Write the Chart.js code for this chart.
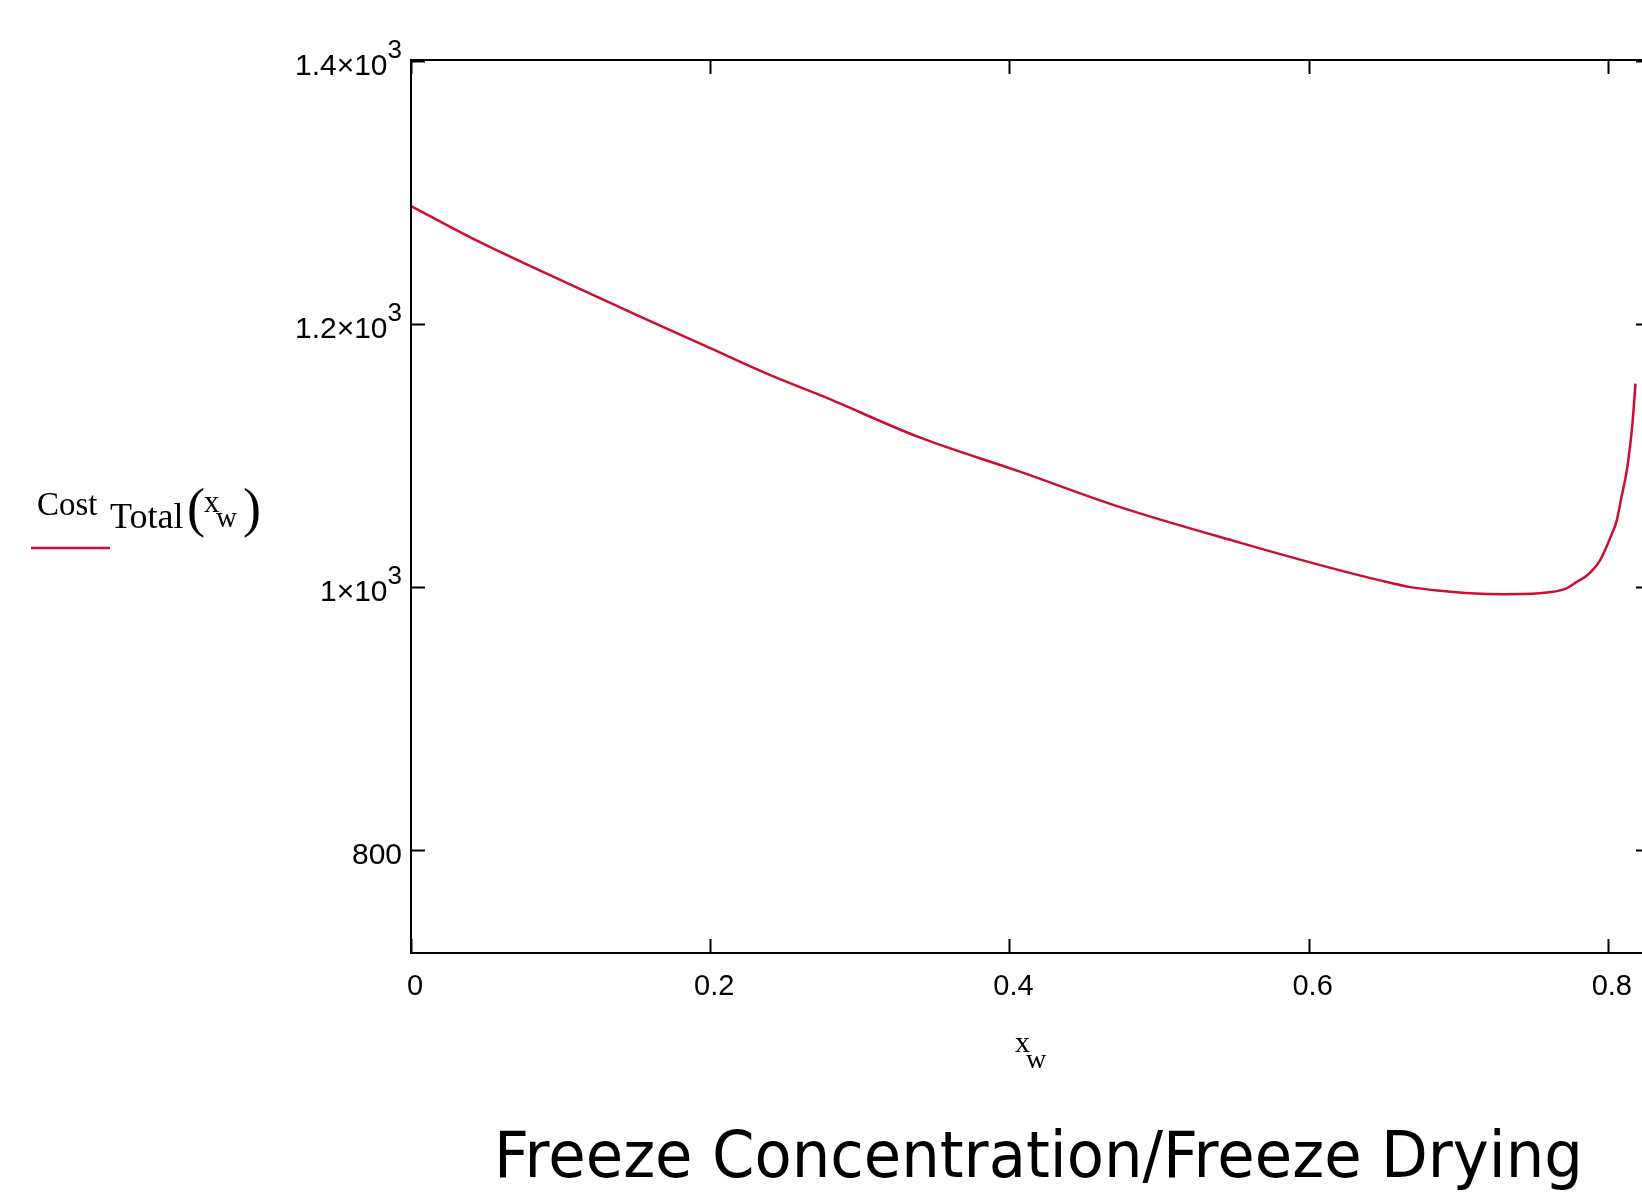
<!DOCTYPE html>
<html>
<head>
<meta charset="utf-8">
<script src="https://cdn.jsdelivr.net/npm/chart.js@4/dist/chart.umd.min.js"></script>
<style>
  html, body { margin: 0; padding: 0; background: #ffffff; overflow: hidden; }
  #wrap { position: absolute; left: 0; top: 0; width: 1660px; height: 1198px; }
</style>
</head>
<body>
<div id="wrap"><canvas id="c" width="1660" height="1198"></canvas></div>
<script>
// ---- data ----
const xValues = [0, 0.04, 0.107, 0.151, 0.196, 0.241, 0.276, 0.340, 0.407, 0.474, 0.554, 0.614, 0.647, 0.669, 0.692, 0.708, 0.730, 0.754, 0.772, 0.779, 0.786, 0.7945, 0.801, 0.806, 0.809, 0.813, 0.8165, 0.8185];
const costValues = [1290, 1266, 1230, 1207, 1184, 1161, 1145, 1114, 1088, 1061, 1034, 1015, 1005.5, 1000, 997, 995.5, 994.8, 995.5, 999, 1004, 1009, 1020, 1036, 1051, 1068, 1091, 1125, 1155];
const xTicks = [0, 0.2, 0.4, 0.6, 0.8];
const xTickLabels = ['0', '0.2', '0.4', '0.6', '0.8'];
const yTicks = [800, 1000, 1200, 1400];
const yTickMantissa = ['800', '1\u00d710', '1.2\u00d710', '1.4\u00d710'];
const yTickExponent = ['', '3', '3', '3'];
const seriesName = 'Cost Total(xw)';
const xAxisTitle = ['x', 'w'];
const chartTitle = 'Freeze Concentration/Freeze Drying';

const frame = {
  id: 'mathcadFrame',
  afterDatasetsDraw(chart) {
    const ctx = chart.ctx;
    const a = chart.chartArea;
    const xs = chart.scales.x, ys = chart.scales.y;
    ctx.save();
    ctx.strokeStyle = '#000';
    ctx.lineWidth = 2;
    ctx.strokeRect(a.left, a.top, a.right - a.left, a.bottom - a.top);
    const tl = 14;
    ctx.beginPath();
    xTicks.forEach(v => {
      const px = Math.round(xs.getPixelForValue(v)) + 0.5;
      ctx.moveTo(px, a.bottom); ctx.lineTo(px, a.bottom - tl);
      ctx.moveTo(px, a.top); ctx.lineTo(px, a.top + tl);
    });
    yTicks.forEach(v => {
      const py = Math.round(ys.getPixelForValue(v)) + 0.5;
      ctx.moveTo(a.left, py); ctx.lineTo(a.left + tl, py);
      ctx.moveTo(a.right, py); ctx.lineTo(a.right - tl, py);
    });
    ctx.stroke();
    ctx.restore();
  },
  afterDraw(chart) {
    const ctx = chart.ctx;
    const a = chart.chartArea;
    const xs = chart.scales.x, ys = chart.scales.y;
    ctx.save();
    ctx.fillStyle = '#000';
    // x tick labels
    ctx.font = '29px "Liberation Sans", Arial, sans-serif';
    ctx.textAlign = 'center';
    ctx.textBaseline = 'alphabetic';
    xTicks.forEach((v, i) => {
      ctx.fillText(xTickLabels[i], xs.getPixelForValue(v) + 4, a.bottom + 42);
    });
    // y tick labels with superscript exponent
    yTicks.forEach((v, i) => {
      const py = ys.getPixelForValue(v);
      const rightEdge = a.left - 9;
      ctx.textAlign = 'right';
      if (yTickExponent[i]) {
        ctx.font = '26px "Liberation Sans", Arial, sans-serif';
        const ew = ctx.measureText(yTickExponent[i]).width;
        ctx.fillText(yTickExponent[i], rightEdge, py - 3);
        ctx.font = '30px "Liberation Sans", Arial, sans-serif';
        ctx.fillText(yTickMantissa[i], rightEdge - ew, py + 14);
      } else {
        ctx.font = '30px "Liberation Sans", Arial, sans-serif';
        ctx.fillText(yTickMantissa[i], rightEdge, py + 14);
      }
    });
    // x axis title x_w
    ctx.textAlign = 'left';
    ctx.font = '30px "Liberation Serif", "Times New Roman", serif';
    ctx.fillText(xAxisTitle[0], 1015, 1052);
    ctx.font = '28px "Liberation Serif", "Times New Roman", serif';
    ctx.fillText(xAxisTitle[1], 1026, 1068);

    // legend: Cost Total(x_w)
    ctx.font = '33px "Liberation Serif", "Times New Roman", serif';
    ctx.fillText('Cost', 37, 515);
    ctx.font = '36px "Liberation Serif", "Times New Roman", serif';
    ctx.fillText('Total', 110, 528);
    ctx.font = '54px "Liberation Serif", "Times New Roman", serif';
    ctx.fillText('(', 187, 526);
    ctx.fillText(')', 243, 526);
    ctx.font = '31px "Liberation Serif", "Times New Roman", serif';
    ctx.fillText('x', 204, 512);
    ctx.font = '29px "Liberation Serif", "Times New Roman", serif';
    ctx.fillText('w', 216, 527);
    ctx.strokeStyle = chart.data.datasets[0].borderColor;
    ctx.lineWidth = 2.5;
    ctx.beginPath();
    ctx.moveTo(31, 548); ctx.lineTo(110, 548);
    ctx.stroke();

    // bottom title
    ctx.font = '64px "DejaVu Sans", sans-serif';
    const tw = ctx.measureText(chartTitle).width;
    const target = 1089;
    ctx.translate(494, 1177);
    ctx.scale(target / tw, 1);
    ctx.fillText(chartTitle, 0, 0);
    ctx.restore();
  }
};

new Chart(document.getElementById('c'), {
  type: 'line',
  data: {
    datasets: [{
      label: seriesName,
      data: xValues.map((x, i) => ({ x: x, y: costValues[i] })),
      borderColor: '#cc0f2f',
      borderWidth: 2.5,
      pointRadius: 0,
      fill: false,
      cubicInterpolationMode: 'monotone'
    }]
  },
  options: {
    responsive: false,
    animation: false,
    layout: { padding: { left: 411, top: 60, right: 10, bottom: 245 } },
    plugins: { legend: { display: false }, tooltip: { enabled: false }, title: { display: false } },
    scales: {
      x: { type: 'linear', min: 0, max: 0.8282, display: false },
      y: { type: 'linear', min: 722, max: 1401, display: false }
    }
  },
  plugins: [frame]
});
</script>
</body>
</html>
